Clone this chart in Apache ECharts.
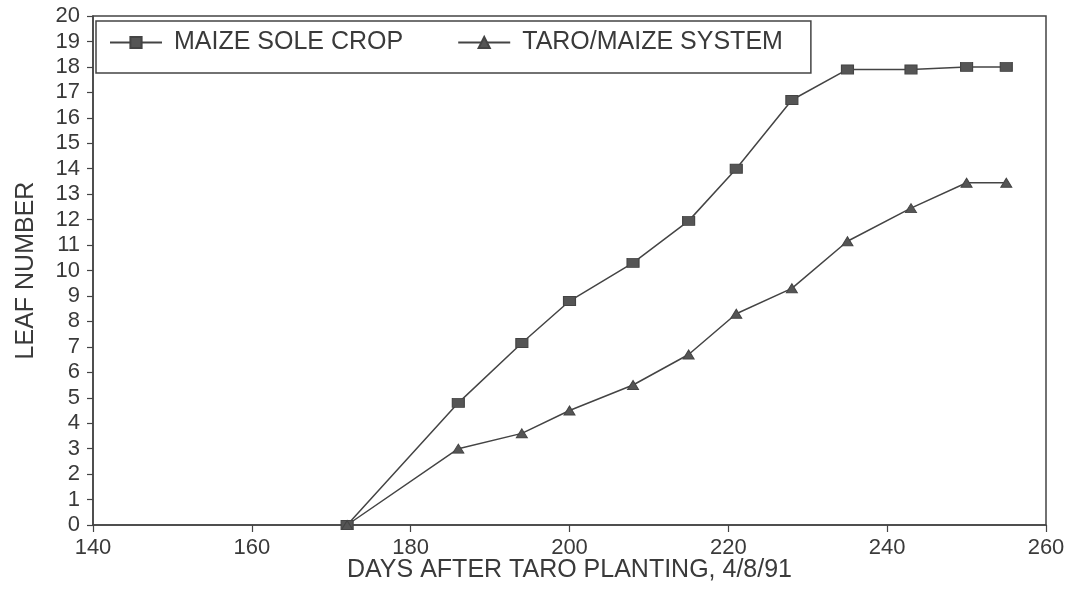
<!DOCTYPE html>
<html>
<head>
<meta charset="utf-8">
<script src="https://cdn.jsdelivr.net/npm/echarts@6/dist/echarts.min.js"></script>
<style>
html,body{margin:0;padding:0;background:#fff;}
#c{width:1076px;height:597px;}
</style>
</head>
<body>
<div id="c"></div>
<script>
const days = [172, 186, 194, 200, 208, 215, 221, 228, 235, 243, 250, 255];
const maizeSole = [0, 4.8, 7.15, 8.8, 10.3, 11.95, 14.0, 16.7, 17.9, 17.9, 18.0, 18.0];
const taroMaize = [0, 3.0, 3.6, 4.5, 5.5, 6.7, 8.3, 9.3, 11.15, 12.45, 13.45, 13.45];
const seriesNames = ['MAIZE SOLE CROP', 'TARO/MAIZE SYSTEM'];
const xTitle = 'DAYS AFTER TARO PLANTING, 4/8/91';
const yTitle = 'LEAF NUMBER';

const FONT = '"Liberation Sans", Arial, sans-serif';
const INK = '#3a3a3a';
const zip = (xs, ys) => xs.map((x, i) => [x, ys[i]]);

const chart = echarts.init(document.getElementById('c'));
chart.setOption({
  backgroundColor: '#ffffff',
  animation: false,
  grid: { left: 93, right: 30, top: 16, bottom: 72, show: true, borderColor: '#444', borderWidth: 1.5, backgroundColor: 'transparent' },
  legend: {
    left: 96, top: 21,
    padding: [9, 28, 18, 13],
    borderColor: '#444', borderWidth: 1.5,
    backgroundColor: '#fff',
    itemWidth: 52, itemHeight: 14, itemGap: 54,
    textStyle: { fontFamily: FONT, fontSize: 25, color: INK, lineHeight: 25, padding: [0, 0, 0, 7] },
    data: seriesNames
  },
  xAxis: {
    type: 'value', min: 140, max: 260, interval: 20,
    name: xTitle, nameLocation: 'middle', nameGap: 33, nameMoveOverlap: false,
    nameTextStyle: { fontFamily: FONT, fontSize: 25, color: INK },
    axisLine: { show: true, onZero: false, lineStyle: { color: '#444', width: 1.5 } },
    axisTick: { show: true, length: 7, lineStyle: { color: '#444', width: 1.2 } },
    axisLabel: { fontFamily: FONT, fontSize: 22, color: INK, margin: 12 },
    splitLine: { show: false }
  },
  yAxis: {
    type: 'value', min: 0, max: 20, interval: 1,
    name: yTitle, nameLocation: 'middle', nameGap: 54, nameRotate: 90, nameMoveOverlap: false,
    nameTextStyle: { fontFamily: FONT, fontSize: 25, color: INK },
    axisLine: { show: true, lineStyle: { color: '#444', width: 1.5 } },
    axisTick: { show: true, length: 6, lineStyle: { color: '#444', width: 1.2 } },
    axisLabel: { fontFamily: FONT, fontSize: 22, color: INK, margin: 13 },
    splitLine: { show: false }
  },
  series: [
    {
      name: seriesNames[0], type: 'line', data: zip(days, maizeSole),
      symbol: 'rect', symbolSize: [12, 9],
      lineStyle: { color: '#444', width: 1.5 },
      itemStyle: { color: '#555', borderColor: '#444', borderWidth: 1 }
    },
    {
      name: seriesNames[1], type: 'line', data: zip(days, taroMaize),
      symbol: 'triangle', symbolSize: [11, 9],
      lineStyle: { color: '#444', width: 1.5 },
      itemStyle: { color: '#555', borderColor: '#444', borderWidth: 1 }
    }
  ]
});
</script>
</body>
</html>
